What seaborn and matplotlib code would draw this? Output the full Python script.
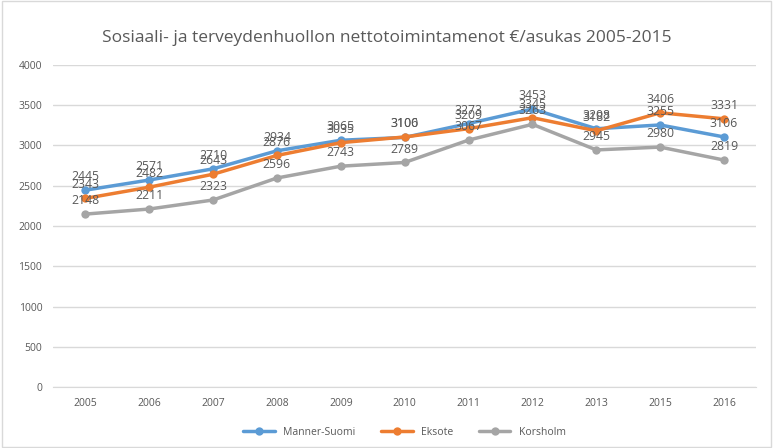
import pandas as pd
import matplotlib.pyplot as plt
import seaborn as sns

years = ["2005", "2006", "2007", "2008", "2009", "2010", "2011", "2012", "2013", "2015", "2016"]
manner_suomi = [2445, 2571, 2710, 2934, 3065, 3100, 3273, 3453, 3208, 3255, 3106]
eksote = [2343, 2482, 2643, 2876, 3035, 3106, 3209, 3345, 3182, 3406, 3331]
korsholm = [2148, 2211, 2323, 2596, 2743, 2789, 3067, 3263, 2945, 2980, 2819]

series_names = ["Manner-Suomi", "Eksote", "Korsholm"]
colors = ["#5B9BD5", "#ED7D31", "#A5A5A5"]


def main():
    frames = []
    for name, vals in zip(series_names, [manner_suomi, eksote, korsholm]):
        frames.append(pd.DataFrame({"year": years, "value": vals, "series": name}))
    df = pd.concat(frames, ignore_index=True)

    sns.set_style("white")
    plt.rcParams["font.family"] = ["Open Sans", "DejaVu Sans"]

    fig = plt.figure(figsize=(7.73, 4.48), dpi=100)
    ax = fig.add_axes([0.069, 0.136, 0.909, 0.719])

    sns.lineplot(data=df, x="year", y="value", hue="series", palette=colors,
                 marker="o", markersize=6, markeredgewidth=0, linewidth=2.5,
                 sort=False, ax=ax)

    # data labels above each point
    for name, vals in zip(series_names, [manner_suomi, eksote, korsholm]):
        for i, v in enumerate(vals):
            ax.annotate(str(v), (i, v), xytext=(0, 5), textcoords="offset points",
                        ha="center", va="bottom", fontsize=8.8, color="#595959")

    ax.set_ylim(0, 4000)
    ax.set_yticks(range(0, 4001, 500))
    ax.set_xlim(-0.5, len(years) - 0.5)
    ax.yaxis.grid(True, color="#D9D9D9", linewidth=1)
    ax.set_axisbelow(True)
    for s in ["top", "right", "left"]:
        ax.spines[s].set_visible(False)
    ax.spines["bottom"].set_color("#D9D9D9")
    ax.tick_params(axis="both", length=0, labelsize=7.5, labelcolor="#595959", pad=8)
    ax.set_xlabel("")
    ax.set_ylabel("")

    ax.legend(loc="upper center", bbox_to_anchor=(0.5, -0.095), ncol=3, frameon=False,
              fontsize=7.5, labelcolor="#595959", handlelength=3, columnspacing=2.5)

    fig.text(0.5, 0.915, "Sosiaali- ja terveydenhuollon nettotoimintamenot €/asukas 2005-2015",
             ha="center", va="center", fontsize=12.5, color="#595959")

    # light frame around the chart
    fig.patches.append(plt.Rectangle((0.002, 0.003), 0.996, 0.994, transform=fig.transFigure,
                                     fill=False, edgecolor="#D9D9D9", linewidth=1))

    fig.savefig("out.png", dpi=100)


if __name__ == "__main__":
    main()
